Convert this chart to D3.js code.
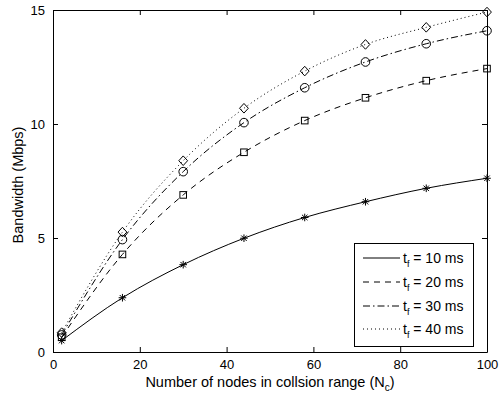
<!DOCTYPE html>
<html>
<head>
<meta charset="utf-8">
<script src="https://cdn.jsdelivr.net/npm/d3@7/dist/d3.min.js"></script>
<style>
  body { margin: 0; background: #fff; }
  svg { display: block; font-family: "Liberation Sans", Arial, sans-serif; }
</style>
</head>
<body>
<div id="chart"></div>
<script>
const nodes = [2, 16, 30, 44, 58, 72, 86, 100]
const bw10 = [0.5, 2.38, 3.83, 4.99, 5.9, 6.59, 7.18, 7.62]
const bw20 = [0.65, 4.28, 6.89, 8.76, 10.15, 11.15, 11.9, 12.43]
const bw30 = [0.75, 4.93, 7.91, 10.06, 11.59, 12.72, 13.52, 14.09]
const bw40 = [0.85, 5.26, 8.39, 10.69, 12.32, 13.49, 14.24, 14.91]
const seriesNames = ["10", "20", "30", "40"]
const xTicks = [0, 20, 40, 60, 80, 100]
const yTicks = [0, 5, 10, 15]

const width = 503, height = 394
const margin = {left: 53, right: 16, top: 10, bottom: 42}

const svg = d3.select("#chart").append("svg")
    .attr("width", width).attr("height", height)

const x = d3.scaleLinear().domain([0, 100]).range([margin.left, width - margin.right])
const y = d3.scaleLinear().domain([0, 15]).range([height - margin.bottom, margin.top])

const styles = [
    {dash: null, marker: "star"},
    {dash: "6,5", marker: "square"},
    {dash: "7,3,1.5,3", marker: "circle"},
    {dash: "1,3", marker: "diamond"}
]
const allSeries = [bw10, bw20, bw30, bw40]

// axes, ticks inward on all four sides
const tickLen = 5
const axisFont = "13px"
const xb = svg.append("g").attr("transform", `translate(0,${y(0)})`)
    .call(d3.axisBottom(x).tickValues(xTicks).tickSizeInner(-tickLen).tickSizeOuter(0).tickPadding(8))
const xt = svg.append("g").attr("transform", `translate(0,${y(15)})`)
    .call(d3.axisTop(x).tickValues(xTicks).tickSizeInner(-tickLen).tickSizeOuter(0).tickFormat(""))
const yl = svg.append("g").attr("transform", `translate(${x(0)},0)`)
    .call(d3.axisLeft(y).tickValues(yTicks).tickSizeInner(-tickLen).tickSizeOuter(0).tickPadding(8))
const yr = svg.append("g").attr("transform", `translate(${x(100)},0)`)
    .call(d3.axisRight(y).tickValues(yTicks).tickSizeInner(-tickLen).tickSizeOuter(0).tickFormat(""))
;[xb, xt, yl, yr].forEach(g => {
    g.selectAll("path,line").attr("stroke", "#000").attr("stroke-width", 1)
    g.selectAll("text").attr("fill", "#000").style("font-size", axisFont).style("font-family", "Liberation Sans, Arial, sans-serif")
})

// curves
const line = d3.line().x(d => x(d[0])).y(d => y(d[1])).curve(d3.curveMonotoneX)
const markerG = svg.append("g")

const drawMarker = (g, type, cx, cy) => {
    if (type === "star") {
        const r = 3.8
        const p = d3.path()
        p.moveTo(cx - r, cy); p.lineTo(cx + r, cy)
        p.moveTo(cx, cy - r); p.lineTo(cx, cy + r)
        const k = r * 0.72
        p.moveTo(cx - k, cy - k); p.lineTo(cx + k, cy + k)
        p.moveTo(cx - k, cy + k); p.lineTo(cx + k, cy - k)
        g.append("path").attr("d", p.toString()).attr("stroke", "#000").attr("stroke-width", 1).attr("fill", "none")
    } else if (type === "square") {
        const s = 3.3
        g.append("rect").attr("x", cx - s).attr("y", cy - s).attr("width", 2 * s).attr("height", 2 * s)
            .attr("fill", "none").attr("stroke", "#000").attr("stroke-width", 1)
    } else if (type === "circle") {
        g.append("circle").attr("cx", cx).attr("cy", cy).attr("r", 4.3)
            .attr("fill", "none").attr("stroke", "#000").attr("stroke-width", 1)
    } else if (type === "diamond") {
        const a = 4.4, b = 4.8
        g.append("path").attr("d", `M${cx},${cy - b}L${cx + a},${cy}L${cx},${cy + b}L${cx - a},${cy}Z`)
            .attr("fill", "none").attr("stroke", "#000").attr("stroke-width", 1)
    }
}

allSeries.forEach((vals, i) => {
    const pts = nodes.map((n, j) => [n, vals[j]])
    svg.append("path").datum(pts).attr("d", line)
        .attr("fill", "none").attr("stroke", "#000").attr("stroke-width", 1)
        .attr("stroke-dasharray", styles[i].dash)
    pts.forEach(p => drawMarker(markerG, styles[i].marker, x(p[0]), y(p[1])))
})

// axis labels
svg.append("text")
    .attr("x", 270).attr("y", 387)
    .attr("text-anchor", "middle").style("font-size", "14.5px")
    .html('Number of nodes in collsion range (N<tspan dy="4" font-size="10px">c</tspan><tspan dy="-4">)</tspan>')

svg.append("text")
    .attr("transform", `translate(23,${(y(0) + y(15)) / 2 + 4}) rotate(-90)`)
    .attr("text-anchor", "middle").style("font-size", "14.5px")
    .text("Bandwidth (Mbps)")

// legend
const lg = svg.append("g")
lg.append("rect").attr("x", 354.5).attr("y", 243.5).attr("width", 119).attr("height", 103)
    .attr("fill", "#fff").attr("stroke", "#000").attr("stroke-width", 1)
const rowY = [258, 282, 306, 329]
seriesNames.forEach((name, i) => {
    lg.append("line").attr("x1", 363).attr("x2", 400).attr("y1", rowY[i]).attr("y2", rowY[i])
        .attr("stroke", "#000").attr("stroke-width", 1).attr("stroke-dasharray", styles[i].dash)
    lg.append("text").attr("x", 403).attr("y", rowY[i] + 4.5).style("font-size", "14px")
        .html(`t<tspan dy="4" font-size="9px">f</tspan><tspan dy="-4"> = ${name} ms</tspan>`)
})
</script>
</body>
</html>
